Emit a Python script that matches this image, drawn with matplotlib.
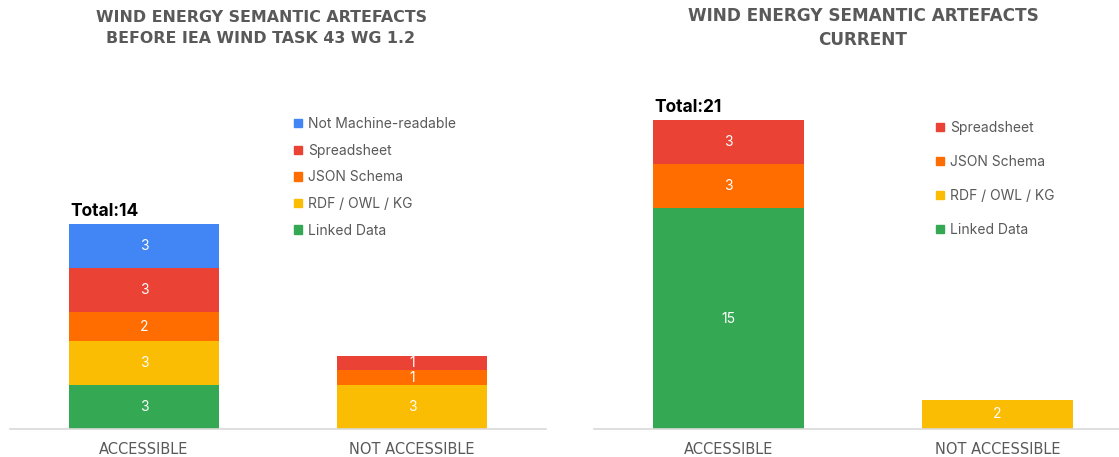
import matplotlib.pyplot as plt
from matplotlib.patches import Patch

categories = ['ACCESSIBLE', 'NOT ACCESSIBLE']

# before IEA Wind Task 43 (stack order bottom -> top)
before_series = ['Linked Data', 'RDF / OWL / KG', 'JSON Schema', 'Spreadsheet', 'Not Machine-readable']
before_values = {
    'Linked Data': [3, 0],
    'RDF / OWL / KG': [3, 3],
    'JSON Schema': [2, 1],
    'Spreadsheet': [3, 1],
    'Not Machine-readable': [3, 0],
}

# current
current_series = ['Linked Data', 'RDF / OWL / KG', 'JSON Schema', 'Spreadsheet']
current_values = {
    'Linked Data': [15, 0],
    'RDF / OWL / KG': [0, 2],
    'JSON Schema': [3, 0],
    'Spreadsheet': [3, 0],
}

colors = {
    'Linked Data': '#34A853',
    'RDF / OWL / KG': '#FBBC04',
    'JSON Schema': '#FF6D01',
    'Spreadsheet': '#EA4335',
    'Not Machine-readable': '#4285F4',
}

plt.rcParams['font.family'] = ['Inter', 'DejaVu Sans']
GRAY = '#595959'
W, H = 1119, 457

fig = plt.figure(figsize=(W / 100, H / 100), dpi=100)


def px_axes(x0, x1, y_top, y_base):
    return fig.add_axes([x0 / W, (H - y_base) / H, (x1 - x0) / W, (y_base - y_top) / H])


def draw_panel(ax, series, values, ymax, legend_xy, label_spacing):
    x = range(len(categories))
    bottoms = [0] * len(categories)
    for name in series:
        vals = values[name]
        ax.bar(x, vals, width=0.56, bottom=bottoms, color=colors[name])
        for i, v in enumerate(vals):
            if v > 0:
                ax.text(i, bottoms[i] + v / 2, str(v), ha='center', va='center',
                        color='white', fontsize=10)
        bottoms = [b + v for b, v in zip(bottoms, vals)]
    # total over first bar
    ax.text(-0.28 + 0.005, bottoms[0] + 0.25, f'Total:{bottoms[0]}', ha='left', va='bottom',
            fontsize=12.5, fontweight='bold', color='black')
    ax.set_xlim(-0.5, 1.5)
    ax.set_ylim(0, ymax)
    for s in ['top', 'right', 'left']:
        ax.spines[s].set_visible(False)
    ax.spines['bottom'].set_color('#d9d9d9')
    ax.spines['bottom'].set_linewidth(1.2)
    ax.set_yticks([])
    ax.set_xticks(list(x))
    ax.set_xticklabels(categories, fontsize=10.5, color=GRAY, family='DejaVu Sans')
    ax.tick_params(axis='x', length=0, pad=9)
    handles = [Patch(color=colors[n], label=n) for n in reversed(series)]
    ax.legend(handles=handles, loc='upper left', bbox_to_anchor=(legend_xy[0] / W, 1 - legend_xy[1] / H),
              bbox_transform=fig.transFigure, frameon=False, fontsize=10, labelcolor=GRAY,
              handlelength=0.55, handleheight=0.55, handletextpad=0.45, labelspacing=label_spacing,
              borderpad=0, borderaxespad=0)


ax1 = px_axes(10, 546, 60, 429)
draw_panel(ax1, before_series, before_values, 369 / 14.64, (294, 117), 0.91)

ax2 = px_axes(594, 1132, 60, 429)
draw_panel(ax2, current_series, current_values, 369 / 14.71, (936, 121), 1.44)

fig.text(261 / W, 1 - 28 / H, 'WIND ENERGY SEMANTIC ARTEFACTS\nBEFORE IEA WIND TASK 43 WG 1.2',
         ha='center', va='center', fontsize=11.4, fontweight='bold', color=GRAY, linespacing=1.45,
         family='DejaVu Sans')
fig.text(863 / W, 1 - 28 / H, 'WIND ENERGY SEMANTIC ARTEFACTS\nCURRENT',
         ha='center', va='center', fontsize=12.2, fontweight='bold', color=GRAY, linespacing=1.4,
         family='DejaVu Sans')

fig.savefig('out.png', dpi=100)
